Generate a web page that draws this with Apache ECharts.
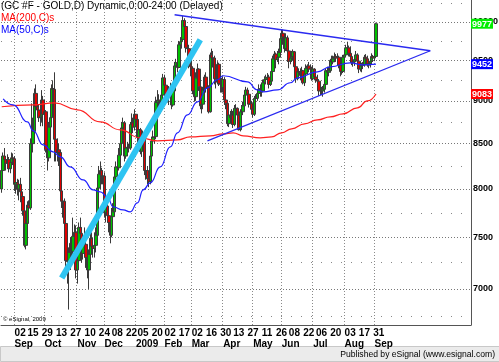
<!DOCTYPE html>
<html><head><meta charset="utf-8">
<script src="https://cdn.jsdelivr.net/npm/echarts@6/dist/echarts.min.js"></script>
<style>html,body{margin:0;padding:0;background:#fff}#c{width:499px;height:362px}</style>
</head><body><div id="c"></div>
<script>
// ---------- data ----------
const firstDay = '2008-08-19';
const slotCount = 329;           // trading-day slots shown on the axis (incl. empty future)
const holidays = ['2008-09-01','2008-11-27','2008-12-25','2009-01-01','2009-01-19','2009-02-16',
  '2009-04-10','2009-05-25','2009-07-03','2009-09-07','2009-11-26','2009-12-25'];

// [open, close, low, high]  (GC #F, price x10), 2008-08-19 .. 2009-09-02
const ohlc = [
 [8000,8200,7960,8240],[8200,8360,8170,8400],[8360,8320,8250,8450],[8320,8280,8200,8360],[8280,8320,8220,8380],
 [8320,8220,8180,8350],[8220,8290,8170,8320],[8290,8340,8240,8400],[8340,8330,8260,8390],
 [8330,8050,7980,8360],[8050,8070,7950,8120],[8070,8000,7930,8110],[8000,8050,7880,8100],[8050,7970,7860,8120],
 [7970,7920,7840,8010],[7920,7770,7720,7960],[7770,7420,7400,7800],[7420,7640,7380,7700],[7640,7830,7600,7870],
 [7830,7800,7650,7880],[7800,8500,7780,8560],[8500,8500,8200,8970],[8500,8640,8400,8800],[8640,9090,8620,9150],
 [9090,8930,8850,9200],[8930,8890,8800,9030],[8890,8800,8750,8960],[8800,8820,8700,8900],[8820,9010,8750,9130],
 [9010,8840,8700,9060],
 [8840,8870,8650,8920],[8870,8430,8400,8890],[8430,8340,8200,8500],[8340,8690,8300,8750],[8690,8800,8600,8900],
 [8800,9150,8750,9200],[9150,9140,8950,9250],[9140,8550,8300,9350],[8550,8400,8300,8600],[8400,8430,8300,8560],
 [8430,8400,8250,8500],[8400,7980,7880,8420],[7980,7870,7800,8050],[7870,7870,7700,7950],[7870,7640,7600,7900],
 [7640,7270,7200,7700],[7270,7260,7050,7350],[7260,7350,6810,7400],[7350,7440,7180,7500],[7440,7360,7250,7500],
 [7360,7510,7300,7700],[7510,7550,7400,7630],[7550,7180,7100,7620],
 [7180,7270,7050,7350],[7270,7600,7200,7650],[7600,7540,7450,7700],[7540,7340,7250,7600],[7340,7420,7280,7500],
 [7420,7430,7350,7600],[7430,7300,7200,7480],[7300,7180,7100,7350],[7180,7330,7000,7380],[7330,7490,7280,7600],
 [7490,7410,7350,7550],[7410,7390,7300,7500],[7390,7420,7300,7550],[7420,7520,7350,7600],[7520,8010,7500,8050],
 [8010,8160,7950,8250],[8160,8200,8000,8300],[8200,8140,8050,8230],[8140,8140,8050,8200],
 [8140,7750,7700,8180],[7750,7820,7650,7900],[7820,7720,7650,7880],[7720,7650,7550,7800],[7650,7520,7440,7700],
 [7520,7710,7500,7800],[7710,7760,7650,7850],[7760,8130,7740,8200],[8130,8240,8100,8300],[8240,8230,8100,8350],
 [8230,8370,8200,8450],[8370,8500,8300,8560],[8500,8680,8450,8750],[8680,8740,8620,8800],[8740,8360,8300,8760],
 [8360,8450,8330,8500],[8450,8460,8380,8520],[8460,8450,8400,8500],[8450,8720,8430,8750],[8720,8740,8650,8850],
 [8740,8690,8620,8800],[8690,8840,8650,8900],
 [8840,8780,8700,8830],[8780,8570,8500,8800],[8570,8660,8520,8720],[8660,8410,8380,8680],[8410,8540,8350,8600],
 [8540,8580,8480,8650],[8580,8200,8150,8600],[8200,8200,8100,8280],[8200,8110,8050,8250],[8110,8080,8020,8200],
 [8080,8360,8050,8400],[8360,8530,8300,8580],[8530,8570,8450,8650],[8570,8580,8500,8700],[8580,8980,8550,9050],
 [8980,9010,8950,9130],[9010,9000,8900,9080],[9000,8900,8850,9050],[8900,9070,8880,9120],[9070,9280,9050,9330],
 [9280,9190,9100,9320],[9190,9020,8980,9220],[9020,9090,8980,9130],[9090,9130,8950,9180],[9130,9130,9050,9220],
 [9130,8950,8900,9160],[8950,9120,8930,9200],[9120,9430,9100,9480],[9430,9470,9380,9520],[9470,9410,9350,9520],
 [9410,9700,9400,9750],[9700,9740,9600,9800],[9740,9770,9650,9900],[9770,10020,9750,10080],[10020,9940,9850,10050],
 [9940,9660,9600,9960],[9660,9650,9550,9720],[9650,9440,9400,9700],[9440,9420,9300,9500],
 [9420,9400,9300,9550],[9400,9120,9080,9420],[9120,9050,8990,9200],[9050,9280,9000,9350],[9280,9390,9220,9460],
 [9390,9170,9120,9400],[9170,8940,8900,9200],[8940,8960,8850,9000],[8960,9130,8900,9170],[9130,9290,9100,9320],
 [9290,9150,9100,9350],[9150,9170,9080,9220],[9170,8870,8850,9190],[8870,9570,8860,9600],[9570,9530,9460,9650],
 [9530,9530,9410,9620],[9530,9270,9200,9560],[9270,9230,9150,9350],[9230,9450,9200,9490],[9450,9210,9180,9470],
 [9210,9200,9100,9300],[9200,9160,9100,9280],
 [9160,9260,9100,9300],[9260,9010,8950,9290],[9010,8970,8900,9050],[8970,8730,8700,9000],[8730,8830,8690,8900],
 [8830,8800,8750,8880],[8800,8830,8750,8900],[8830,8720,8680,8880],[8720,8910,8700,8950],[8910,8910,8820,8960],
 [8910,8830,8780,8920],[8830,8660,8650,8880],[8660,8870,8640,8900],[8870,8870,8800,8950],[8870,8940,8830,8990],
 [8940,9070,8900,9100],[9070,9130,9000,9170],[9130,9080,9030,9160],[9080,8960,8920,9120],[8960,8970,8900,9030],
 [8970,8900,8850,9000],
 [8900,8840,8800,8930],[8840,9030,8820,9060],[9030,9030,8980,9080],[9030,9090,9000,9130],[9090,9140,9050,9200],
 [9140,9150,9050,9200],[9150,9120,9050,9200],[9120,9220,9100,9260],[9220,9260,9150,9300],[9260,9280,9200,9320],
 [9280,9290,9220,9340],[9290,9200,9150,9320],[9200,9240,9180,9300],[9240,9360,9200,9400],[9360,9520,9330,9560],
 [9520,9580,9480,9620],[9580,9510,9400,9600],[9510,9540,9480,9620],[9540,9600,9450,9650],[9600,9780,9570,9820],
 [9780,9850,9750,9900],[9850,9800,9700,9900],[9800,9650,9600,9820],[9650,9790,9620,9850],[9790,9620,9480,9820],
 [9620,9490,9400,9650],[9490,9530,9450,9580],[9530,9550,9480,9620],[9550,9610,9500,9640],[9610,9420,9380,9620],
 [9420,9270,9220,9430],[9270,9360,9250,9400],[9360,9350,9280,9400],[9350,9310,9250,9400],[9310,9370,9280,9420],
 [9370,9220,9200,9380],[9220,9330,9180,9370],[9330,9400,9300,9450],[9400,9430,9320,9450],[9430,9390,9350,9480],
 [9390,9400,9320,9450],[9400,9270,9250,9420],
 [9270,9390,9250,9440],[9390,9290,9250,9400],[9290,9260,9220,9330],[9260,9240,9200,9320],[9240,9120,9060,9260],
 [9120,9130,9070,9200],[9130,9120,9070,9170],[9120,9140,9050,9180],[9140,9200,9100,9250],[9200,9370,9180,9400],
 [9370,9350,9300,9420],[9350,9370,9300,9420],[9370,9500,9350,9520],[9500,9480,9420,9560],[9480,9520,9450,9560],
 [9520,9550,9480,9600],[9550,9530,9480,9580],[9530,9540,9500,9590],[9540,9440,9400,9560],[9440,9360,9300,9460],
 [9360,9360,9320,9440],[9360,9540,9340,9570],
 [9540,9570,9500,9610],[9570,9660,9550,9700],[9660,9660,9580,9740],[9660,9590,9550,9690],[9590,9550,9500,9680],
 [9550,9470,9440,9580],[9470,9480,9420,9510],[9480,9510,9430,9560],[9510,9570,9490,9620],[9570,9490,9450,9590],
 [9490,9390,9340,9510],[9390,9430,9360,9460],[9430,9440,9350,9470],[9440,9440,9390,9480],[9440,9540,9420,9570],
 [9540,9520,9490,9580],[9520,9440,9420,9560],[9440,9460,9400,9480],[9460,9490,9410,9520],[9490,9550,9450,9590],
 [9550,9530,9480,9570],
 [9530,9550,9490,9620],[9550,9977,9540,9990]
];

const ma200 = [
 ['2008-08-19',8929],['2008-09-19',8952],['2008-10-10',8976],['2008-11-03',8893],['2008-11-25',8751],
 ['2008-12-16',8658],['2009-01-07',8566],['2009-01-26',8532],['2009-02-13',8543],['2009-02-27',8577],
 ['2009-03-19',8589],['2009-04-01',8612],['2009-04-13',8624],['2009-04-22',8589],['2009-05-08',8566],
 ['2009-05-20',8577],['2009-06-01',8624],['2009-06-10',8670],['2009-06-23',8728],['2009-07-07',8774],
 ['2009-07-20',8810],['2009-07-31',8845],['2009-08-14',8917],['2009-08-25',9000],['2009-09-02',9083]
];
const ma50 = [
 ['2008-08-20',9024],['2008-08-29',8952],['2008-09-15',8750],['2008-09-19',8650],['2008-09-30',8486],
 ['2008-10-09',8407],['2008-10-16',8351],['2008-10-27',8240],['2008-11-07',8098],['2008-11-18',7991],
 ['2008-11-25',7969],['2008-12-03',7916],['2008-12-09',7811],['2008-12-18',7780],['2008-12-26',7759],
 ['2009-01-05',7853],['2009-01-09',7991],['2009-01-16',8066],['2009-01-28',8240],['2009-02-06',8463],
 ['2009-02-13',8624],['2009-02-25',8833],['2009-03-06',8988],['2009-03-17',9158],['2009-03-26',9257],
 ['2009-04-01',9307],['2009-04-27',9232],['2009-05-06',9133],['2009-05-12',9109],['2009-05-27',9133],
 ['2009-06-09',9220],['2009-06-16',9281],['2009-07-07',9356],['2009-07-20',9419],['2009-08-07',9469],
 ['2009-08-20',9444],['2009-09-02',9452]
];
const upperTrend = [['2009-02-11',10097],['2009-10-27',9623]];
const lowerTrend = [['2009-03-17',8532],['2009-10-27',9623]];
const cyanTrend  = [['2008-10-17',7103],['2009-03-10',9765]];

const tickDates = ['2008-09-02','2008-09-15','2008-09-29','2008-10-13','2008-10-27','2008-11-10','2008-11-24',
 '2008-12-08','2008-12-22','2009-01-05','2009-01-20','2009-02-02','2009-02-17','2009-03-02','2009-03-16',
 '2009-03-30','2009-04-13','2009-04-27','2009-05-11','2009-05-26','2009-06-08','2009-06-22','2009-07-06',
 '2009-07-20','2009-08-03','2009-08-17','2009-08-31'];
const monthStarts = [['2008-09-02','Sep'],['2008-10-01','Oct'],['2008-11-03','Nov'],['2008-12-01','Dec'],
 ['2009-01-02','2009'],['2009-02-02','Feb'],['2009-03-02','Mar'],['2009-04-01','Apr'],['2009-05-01','May'],
 ['2009-06-01','Jun'],['2009-07-01','Jul'],['2009-08-03','Aug'],['2009-09-01','Sep']];
const priceTicks = [7000,7500,8000,8500,9000,9500,10000];
const minorTicks = [6750,7250,7750,8250,8750,9250,9750,10250];
const priceMin = 6671, priceMax = 10298;

// ---------- build ----------
const cats = [];
(function(){
  const hs = new Set(holidays);
  const d = new Date(firstDay + 'T00:00:00Z');
  while (cats.length < slotCount) {
    const wd = d.getUTCDay();
    const s = d.toISOString().slice(0,10);
    if (wd !== 0 && wd !== 6 && !hs.has(s)) cats.push(s);
    d.setUTCDate(d.getUTCDate() + 1);
  }
})();
const tickSet = new Set(tickDates);
const monthMap = {}; monthStarts.forEach(m => monthMap[m[0]] = m[1]);
const isMonth = (i, v) => monthMap[v] !== undefined;
const lastClose = ohlc[ohlc.length-1][1];
const lastMa50 = ma50[ma50.length-1][1];
const lastMa200 = ma200[ma200.length-1][1];
const badgeValues = [lastMa200, lastMa50, lastClose];
const badgeStyle = {};
badgeStyle[lastClose] = 'g'; badgeStyle[lastMa50] = 'b'; badgeStyle[lastMa200] = 'r';

const FONT = 'Liberation Sans, Arial, sans-serif';
const badgeBase = {color: '#fff', fontFamily: FONT, fontSize: 9, fontWeight: 'bold',
  padding: [1, 1, 0, 1], lineHeight: 10};

const chart = echarts.init(document.getElementById('c'), null, {renderer: 'canvas'});
chart.setOption({
  animation: false,
  backgroundColor: '#fff',
  textStyle: {fontFamily: FONT},
  title: [
    {text: '(GC #F - GOLD,D) Dynamic,0:00-24:00 (Delayed)', left: 1, top: 1, padding: 0,
     textStyle: {fontSize: 10, fontWeight: 'normal', color: '#000', fontFamily: FONT}},
    {text: 'MA(200,C)s', left: 1, top: 13, padding: 0,
     textStyle: {fontSize: 10, fontWeight: 'normal', color: '#ff0000', fontFamily: FONT}},
    {text: 'MA(50,C)s', left: 1, top: 25, padding: 0,
     textStyle: {fontSize: 10, fontWeight: 'normal', color: '#0000ff', fontFamily: FONT}},
    {text: '© eSignal, 2009', left: 3, top: 316, padding: 0,
     textStyle: {fontSize: 6, fontWeight: 'normal', color: '#000', fontFamily: FONT}},
    {text: 'Published by eSignal (www.esignal.com)', right: 4, top: 350, padding: 0,
     textStyle: {fontSize: 8.6, fontWeight: 'normal', color: '#000', fontFamily: FONT}}
  ],
  graphic: [
    {type: 'rect', left: 0, bottom: 0, z: -10, shape: {width: 499, height: 15},
     style: {fill: '#ebebeb', stroke: '#c8c8c8', lineWidth: 1}}
  ],
  grid: {left: 1, right: 28, top: 0, bottom: 37, outerBoundsMode: 'none', containLabel: false},
  xAxis: [
    {type: 'category', data: cats, boundaryGap: true,
     axisLine: {show: true, lineStyle: {color: '#555', width: 1}},
     axisTick: {show: false},
     axisLabel: {interval: (i, v) => tickSet.has(v), formatter: v => v.slice(8), align: 'left',
       fontSize: 10, fontWeight: 'bold', color: '#000', margin: 3, fontFamily: FONT, hideOverlap: false},
     splitLine: {show: false}},
    {type: 'category', data: cats, boundaryGap: true, position: 'bottom',
     axisLine: {show: false},
     axisTick: {show: false, interval: isMonth},
     axisLabel: {interval: isMonth, formatter: v => monthMap[v] || '', align: 'left',
       fontSize: 10, fontWeight: 'bold', color: '#000', margin: 14, fontFamily: FONT, hideOverlap: false},
     splitLine: {show: true, interval: isMonth, lineStyle: {color: '#8a8a8a', type: [1, 2], width: 1}}}
  ],
  yAxis: [
    {type: 'log', logBase: 10, min: priceMin, max: priceMax, position: 'right',
     axisLine: {show: true, lineStyle: {color: '#555', width: 1}},
     axisTick: {show: false, customValues: priceTicks},
     axisLabel: {customValues: priceTicks, formatter: v => String(Math.round(v)), align: 'left',
       fontSize: 9, fontWeight: 'bold', color: '#000', margin: 2, fontFamily: FONT},
     splitLine: {show: true, lineStyle: {color: '#777', type: [1, 2], width: 1}}},
    {type: 'log', logBase: 10, min: priceMin, max: priceMax, position: 'right',
     axisLine: {show: false}, axisLabel: {show: false},
     axisTick: {show: false, customValues: minorTicks},
     splitLine: {show: true, lineStyle: {color: '#888', type: [1, 9], width: 1}}},
    {type: 'log', logBase: 10, min: priceMin, max: priceMax, position: 'right', z: 10,
     axisLine: {show: false}, splitLine: {show: false},
     axisTick: {show: false, customValues: badgeValues},
     axisLabel: {customValues: badgeValues, align: 'left', margin: 0, hideOverlap: false,
       formatter: v => { const r = Math.round(v); return '{' + (badgeStyle[r] || 'g') + '|' + r + '}'; },
       rich: {
         g: Object.assign({backgroundColor: '#00ee00'}, badgeBase),
         b: Object.assign({backgroundColor: '#0000ff'}, badgeBase),
         r: Object.assign({backgroundColor: '#ff0000'}, badgeBase)
       }}}
  ],
  series: [
    {type: 'candlestick', name: 'GC', data: ohlc, barWidth: 3,
     itemStyle: {color: '#00c000', color0: '#e00000', borderColor: '#3a3a3a', borderColor0: '#3a3a3a', borderWidth: 1},
     z: 2},
    {type: 'line', name: 'MA(200,C)', data: ma200, symbol: 'none', smooth: true, smoothMonotone: 'x',
     lineStyle: {color: '#ff2020', width: 1.2}, z: 3},
    {type: 'line', name: 'MA(50,C)', data: ma50, symbol: 'none', smooth: true, smoothMonotone: 'x',
     lineStyle: {color: '#2020ff', width: 1.2}, z: 3},
    {type: 'line', name: 'upper', data: upperTrend, symbol: 'none',
     lineStyle: {color: '#2a2af0', width: 1.3}, z: 4},
    {type: 'line', name: 'lower', data: lowerTrend, symbol: 'none',
     lineStyle: {color: '#2a2af0', width: 1.3}, z: 4},
    {type: 'line', name: 'channel', data: cyanTrend, symbol: 'none',
     lineStyle: {color: '#2ec4f2', width: 6, cap: 'butt'}, z: 4}
  ]
});
</script></body></html>
